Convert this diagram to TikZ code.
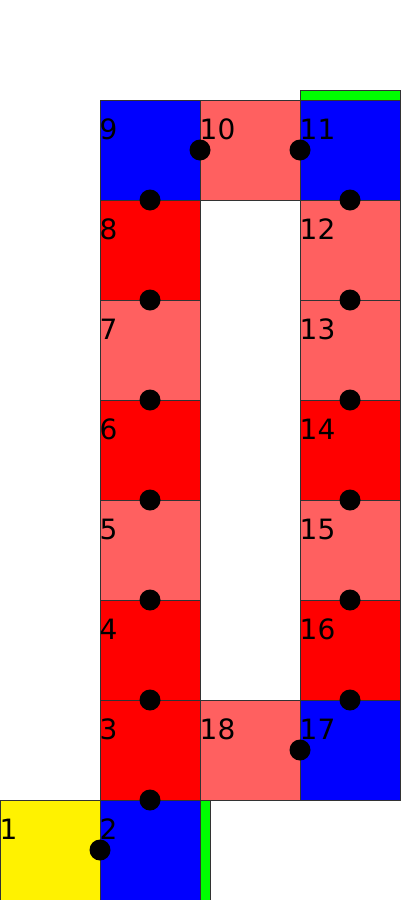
\documentclass[tikz,border=0pt]{standalone}
\usepackage{fontspec}
\setmainfont{DejaVu Sans}
\definecolor{lred}{HTML}{FF6060}
\definecolor{edge}{HTML}{333333}
\begin{document}
\begin{tikzpicture}[x=1pt,y=-1pt,
  cell/.style={draw=edge,line width=0.8pt,minimum size=100pt,inner sep=0pt,outer sep=0pt},
  bar/.style={draw=edge,line width=0.8pt,fill=green,inner sep=0pt,outer sep=0pt},
  num/.style={anchor=base west,inner sep=0pt,font=\fontsize{28}{32}\selectfont},
  dot/.style={circle,fill=black,minimum size=21pt,inner sep=0pt}]
\useasboundingbox (0,0) rectangle (400,900);
\node[bar,minimum width=100pt,minimum height=10pt] (g1) at (350,95) {};
\node[bar,minimum width=10pt,minimum height=100pt] (g2) at (205,850) {};
\foreach \n/\x/\y/\c in {1/50/850/yellow,2/150/850/blue,3/150/750/red,4/150/650/red,
  5/150/550/lred,6/150/450/red,7/150/350/lred,8/150/250/red,9/150/150/blue,
  10/250/150/lred,11/350/150/blue,12/350/250/lred,13/350/350/lred,14/350/450/red,
  15/350/550/lred,16/350/650/red,17/350/750/blue,18/250/750/lred}{
  \node[cell,fill=\c] (c\n) at (\x,\y) {};
  \node[num] (t\n) at ([xshift=-0.5pt,yshift=-39pt]c\n.north west) {\n};
}
\node[dot] (d1) at (c2.west) {};
\node[dot] (d2) at (c2.north) {};
\node[dot] (d3) at (c3.north) {};
\node[dot] (d4) at (c4.north) {};
\node[dot] (d5) at (c5.north) {};
\node[dot] (d6) at (c6.north) {};
\node[dot] (d7) at (c7.north) {};
\node[dot] (d8) at (c8.north) {};
\node[dot] (d9) at (c9.east) {};
\node[dot] (d10) at (c10.east) {};
\node[dot] (d11) at (c11.south) {};
\node[dot] (d12) at (c12.south) {};
\node[dot] (d13) at (c13.south) {};
\node[dot] (d14) at (c14.south) {};
\node[dot] (d15) at (c15.south) {};
\node[dot] (d16) at (c16.south) {};
\node[dot] (d17) at (c17.west) {};
\end{tikzpicture}
\end{document}
